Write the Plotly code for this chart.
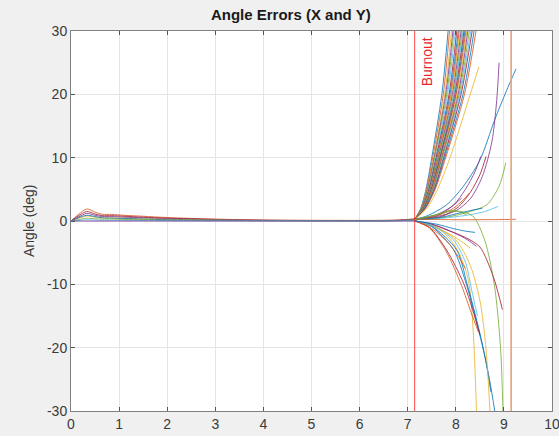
import plotly.graph_objects as go

# ---------------- data ----------------
MATLAB = ['#0072BD', '#D95319', '#EDB120', '#7E2F8E', '#77AC30', '#4DBEEE', '#A2142F']

BURNOUT_T = 7.145
END_T = 9.15

# pre-burnout oscillation profiles (time, angle)
PRE_T = [0, 0.15, 0.33, 0.5, 0.65, 0.85, 1.1, 1.5, 2.0, 3.0, 4.0, 5.5, 6.8, 7.15]
PRE_VALUES = [
    [0, 1.0, 1.9, 1.4, 1.05, 1.05, 0.9, 0.75, 0.55, 0.3, 0.15, 0.1, 0.15, 0.35],
    [0, 0.8, 1.5, 1.1, 0.85, 0.85, 0.75, 0.6, 0.45, 0.25, 0.12, 0.08, 0.12, 0.3],
    [0, 0.6, 1.2, 0.9, 0.7, 0.7, 0.6, 0.5, 0.35, 0.2, 0.1, 0.06, 0.1, 0.25],
    [0, 0.4, 0.8, 0.6, 0.5, 0.5, 0.45, 0.35, 0.25, 0.15, 0.08, 0.05, 0.08, 0.2],
    [0, 0.5, 0.9, 0.7, 0.5, 0.45, 0.4, 0.3, 0.2, 0.12, 0.06, 0.04, 0.06, 0.2],
    [0, 0.2, 0.45, 0.35, 0.3, 0.3, 0.25, 0.2, 0.15, 0.1, 0.05, 0.03, 0.05, 0.15],
    [0, 0.1, 0.2, 0.15, 0.12, 0.1, 0.1, 0.08, 0.06, 0.04, 0.03, 0.02, 0.03, 0.1],
    [0, 0, 0, 0, 0, 0, 0, 0, 0, 0, 0, 0, 0, 0],
]
PRE_COLORS = [1, 6, 3, 2, 0, 4, 5, 3]

# upward bundle: time at which each run crosses the given angle levels
UP_LEVELS = [0.3, 2, 5, 10, 20, 30]
UP_X = [
    [7.15, 7.27, 7.38, 7.50, 7.71, 7.84],
    [7.15, 7.28, 7.39, 7.52, 7.74, 7.87],
    [7.15, 7.28, 7.40, 7.54, 7.77, 7.91],
    [7.15, 7.29, 7.41, 7.55, 7.79, 7.94],
    [7.15, 7.29, 7.42, 7.56, 7.81, 7.96],
    [7.15, 7.30, 7.43, 7.58, 7.83, 7.99],
    [7.15, 7.30, 7.44, 7.59, 7.86, 8.02],
    [7.15, 7.31, 7.45, 7.61, 7.88, 8.05],
    [7.15, 7.31, 7.46, 7.62, 7.90, 8.07],
    [7.15, 7.31, 7.46, 7.63, 7.91, 8.09],
    [7.15, 7.32, 7.47, 7.64, 7.93, 8.11],
    [7.15, 7.32, 7.48, 7.65, 7.95, 8.13],
    [7.15, 7.32, 7.48, 7.66, 7.96, 8.15],
    [7.15, 7.33, 7.49, 7.67, 7.98, 8.17],
    [7.15, 7.33, 7.50, 7.68, 8.00, 8.19],
    [7.15, 7.34, 7.50, 7.69, 8.01, 8.21],
    [7.15, 7.34, 7.51, 7.70, 8.03, 8.23],
    [7.15, 7.34, 7.52, 7.71, 8.05, 8.25],
    [7.15, 7.35, 7.53, 7.72, 8.07, 8.28],
    [7.15, 7.35, 7.54, 7.74, 8.09, 8.31],
    [7.15, 7.36, 7.55, 7.75, 8.11, 8.34],
    [7.15, 7.36, 7.56, 7.77, 8.15, 8.38],
    [7.15, 7.37, 7.57, 7.79, 8.18, 8.42],
]

# individual runs after burnout: (times, angles, colour index)
RUN_T = [
    [7.15, 7.40, 7.62, 7.88, 8.30, 8.48],
    [7.15, 7.40, 7.80, 8.15, 8.50, 8.81, 9.05, 9.25],
    [7.15, 7.60, 8.00, 8.30, 8.55, 8.75, 8.85, 8.90],
    [7.15, 7.60, 7.95, 8.20, 8.40, 8.52],
    [7.15, 7.70, 8.05, 8.30, 8.50, 8.63],
    [7.15, 7.80, 8.30, 8.65, 8.90, 9.04],
    [7.15, 7.60, 7.95, 8.15, 8.28],
    [7.15, 7.80, 8.30, 8.60, 8.88],
    [7.15, 7.60, 7.90, 8.12],
    [7.15, 7.55, 7.85, 8.05, 8.22],
    [7.15, 7.70, 8.10, 8.40, 8.55],
    [7.15, 8.00, 8.80, 9.25],
    [7.15, 7.60, 8.00, 8.35, 8.60, 8.80, 8.93, 8.98],
    [7.15, 7.50, 7.80, 8.05, 8.26, 8.36, 8.43],
    [7.15, 7.50, 8.02, 8.23, 8.50, 8.70, 8.81],
    [7.15, 7.50, 7.95, 8.20, 8.45, 8.62, 8.73],
    [7.15, 7.50, 8.00, 8.30, 8.50, 8.62, 8.71],
    [7.15, 7.45, 7.81, 8.16, 8.35, 8.50],
    [7.15, 7.45, 7.80, 8.12, 8.32, 8.47],
    [7.15, 7.50, 7.81, 8.20, 8.50, 8.78, 8.97],
    [7.15, 7.50, 7.90, 8.15, 8.30],
    [7.15, 7.55, 7.95, 8.25, 8.43],
    [7.15, 7.55, 7.95, 8.20, 8.33, 8.45],
    [7.15, 7.50, 7.85, 8.05, 8.20],
    [7.15, 7.60, 7.95, 8.20, 8.40],
]
RUN_Y = [
    [0.3, 2, 5, 10, 20, 24.3],
    [0.3, 0.8, 2.5, 5.4, 9.6, 16, 20.5, 24],
    [0.3, 0.7, 1.6, 3.5, 7, 12.5, 19, 25],
    [0.2, 0.8, 2.5, 5, 7.8, 10.2],
    [0.2, 0.7, 2.2, 4.5, 7.3, 10.2],
    [0.2, 0.6, 1.5, 2.6, 5.5, 9.2],
    [0.2, 0.8, 2.0, 3.3, 4.4],
    [0.2, 0.5, 1.0, 1.5, 2.3],
    [0.2, 1.0, 2.2, 3.6],
    [0.2, 0.9, 1.6, 1.5, 1.0],
    [0.2, 0.6, 1.3, 1.8, 2.0],
    [0.3, 0.2, 0.22, 0.27],
    [0.2, 1.0, 1.6, 0.8, -3, -10, -20, -30],
    [0, -0.7, -2.2, -4.8, -9.3, -17.2, -30],
    [0, -0.8, -4.6, -9.8, -17.7, -25, -30],
    [0, -0.9, -4.5, -9.5, -16.5, -22, -27],
    [0, -0.6, -3.0, -7.0, -12.5, -19.5, -30],
    [0, -1.0, -4.6, -9.8, -14, -18],
    [0, -1.1, -4.8, -10.2, -14.5, -17.5],
    [0, -0.5, -1.4, -2.6, -4.1, -8.8, -14],
    [0, -0.7, -2.2, -3.4, -4.3],
    [0, -0.6, -1.8, -3.0, -4.0],
    [0, -0.8, -3.0, -6.5, -10.9, -15],
    [0, -1.2, -3.5, -5.6, -7.5],
    [0, -0.5, -1.2, -1.6, -1.8],
]
RUN_COLORS = [2, 0, 3, 3, 6, 4, 1, 5, 3, 4, 0, 1, 4, 2, 0, 0, 2, 6, 1, 6, 2, 3, 5, 1, 0]

X_TICKS = [0, 1, 2, 3, 4, 5, 6, 7, 8, 9, 10]
X_LABELS = ['0', '1', '2', '3', '4', '5', '6', '7', '8', '9', '10']
Y_TICKS = [-30, -20, -10, 0, 10, 20, 30]
Y_LABELS = ['-30', '-20', '-10', '0', '10', '20', '30']

# ---------------- figure ----------------
fig = go.Figure()
LW = 1.0

def add_line(xs, ys, color):
    fig.add_trace(go.Scatter(
        x=xs, y=ys, mode='lines', line=dict(color=color, width=LW, shape='spline', smoothing=0.8),
        opacity=0.8, showlegend=False, hoverinfo='skip'))

for vals, ci in zip(PRE_VALUES, PRE_COLORS):
    add_line(PRE_T, vals, MATLAB[ci])

for i, xs in enumerate(UP_X):
    add_line(xs, UP_LEVELS, MATLAB[i % 7])

for xs, ys, ci in zip(RUN_T, RUN_Y, RUN_COLORS):
    add_line(xs, ys, MATLAB[ci])

fig.add_vline(x=BURNOUT_T, line=dict(color='rgba(255,40,40,0.85)', width=1))
fig.add_vline(x=END_T, line=dict(color='#e6a07c', width=1.6))

FONT = 'Liberation Sans, Arial, Helvetica, sans-serif'
axis_common = dict(
    showgrid=True, gridcolor='#e4e4e4', gridwidth=1,
    showline=True, linecolor='#808080', linewidth=1, mirror='ticks',
    ticks='inside', ticklen=4, tickcolor='#555555', tickwidth=1,
    zeroline=False, automargin=False, ticklabeloverflow='allow',
    tickfont=dict(family=FONT, size=14, color='#3a3a3a'),
)
fig.update_xaxes(range=[0, 10], tickvals=X_TICKS, ticktext=X_LABELS, **axis_common)
fig.update_yaxes(range=[-30, 30], tickvals=Y_TICKS, ticktext=Y_LABELS, **axis_common)

fig.update_layout(
    width=559, height=436,
    margin=dict(l=71, r=7, t=31, b=25, autoexpand=False),
    paper_bgcolor='#f0f0f0', plot_bgcolor='#ffffff',
    font=dict(family=FONT),
    showlegend=False,
    title=dict(text='<b>Angle Errors (X and Y)</b>', x=0.457, xref='paper', xanchor='center',
               y=1, yref='container', yanchor='top', pad=dict(t=9),
               font=dict(family=FONT, size=15, color='#1a1a1a')),
    annotations=[
        dict(text='Angle (deg)', xref='paper', yref='paper', x=-0.0873, y=0.5,
             xanchor='center', yanchor='middle', textangle=-90, showarrow=False,
             font=dict(family=FONT, size=14, color='#3a3a3a')),
        dict(text='Burnout', xref='x', yref='y', x=7.40, y=25.2,
             xanchor='center', yanchor='middle', textangle=-90, showarrow=False,
             font=dict(family=FONT, size=14, color='#e8262a')),
    ],
)

fig.write_html('out.html')
